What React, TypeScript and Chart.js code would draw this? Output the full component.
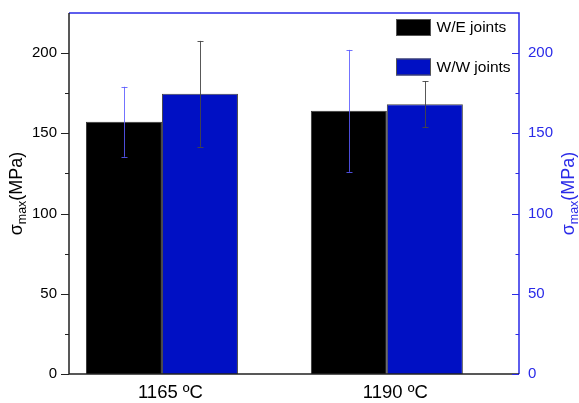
import React, { useEffect, useRef } from "react";
import { Chart, registerables } from "chart.js";

Chart.register(...registerables);

const categories = ["1165 ºC", "1190 ºC"];
const seriesNames = ["W/E joints", "W/W joints"];
const weValues = [157.2, 164.0];
const wwValues = [174.6, 168.2];
const weErrors = [21.8, 38.0];
const wwErrors = [33.0, 14.4];
const yTickValues = [0, 25, 50, 75, 100, 125, 150, 175, 200];
const xMin = 0.5867;
const xMax = 2.5876;

const FONT = "'Liberation Sans', Arial, sans-serif";
const BLUE_AXIS = "#2a2ae8";
const BAR_BLACK = "#000000";
const BAR_BLUE = "#0010c4";

const overlayPlugin = {
  id: "overlay",
  afterDatasetsDraw(chart: any) {
    const ctx = chart.ctx;
    const y = chart.scales.y;
    const errs = [weErrors, wwErrors];
    const vals = [weValues, wwValues];
    const errColors = ["rgba(90,90,255,0.85)", "rgba(70,70,70,0.9)"];
    ctx.save();
    for (let d = 0; d < 2; d++) {
      const meta = chart.getDatasetMeta(d);
      meta.data.forEach((el: any, i: number) => {
        const v = vals[d][i];
        const e = errs[d][i];
        const yt = y.getPixelForValue(v + e);
        const yb = y.getPixelForValue(v - e);
        ctx.strokeStyle = errColors[d];
        ctx.lineWidth = 1;
        ctx.beginPath();
        const x = Math.round(el.x) + 0.5;
        ctx.moveTo(x, yt);
        ctx.lineTo(x, yb);
        ctx.moveTo(x - 3, Math.round(yt) + 0.5);
        ctx.lineTo(x + 3, Math.round(yt) + 0.5);
        ctx.moveTo(x - 3, Math.round(yb) + 0.5);
        ctx.lineTo(x + 3, Math.round(yb) + 0.5);
        ctx.stroke();
      });
    }
    ctx.restore();
  },
  afterDraw(chart: any) {
    const ctx = chart.ctx;
    const a = chart.chartArea;
    const y = chart.scales.y;
    ctx.save();
    ctx.lineWidth = 1.5;
    ctx.strokeStyle = BLUE_AXIS;
    ctx.beginPath();
    ctx.moveTo(a.left, a.top);
    ctx.lineTo(a.right, a.top);
    ctx.lineTo(a.right, a.bottom);
    ctx.stroke();
    ctx.strokeStyle = "#222";
    ctx.beginPath();
    ctx.moveTo(a.left, a.top);
    ctx.lineTo(a.left, a.bottom);
    ctx.lineTo(a.right, a.bottom);
    ctx.stroke();
    ctx.lineWidth = 1;
    yTickValues.forEach((v) => {
      const py = Math.round(y.getPixelForValue(v)) + 0.5;
      const major = v % 50 === 0;
      ctx.strokeStyle = "#222";
      ctx.beginPath();
      ctx.moveTo(a.left - (major ? 8 : 4), py);
      ctx.lineTo(a.left, py);
      ctx.stroke();
      ctx.strokeStyle = BLUE_AXIS;
      ctx.beginPath();
      ctx.moveTo(a.right - (major ? 7 : 3.5), py);
      ctx.lineTo(a.right, py);
      ctx.stroke();
    });
    const colors = [BAR_BLACK, BAR_BLUE];
    ctx.font = `15.5px ${FONT}`;
    ctx.textBaseline = "middle";
    ctx.textAlign = "left";
    seriesNames.forEach((name, i) => {
      const by = 19 + i * 39.5;
      ctx.fillStyle = colors[i];
      ctx.fillRect(396, by, 35, 17);
      ctx.strokeStyle = "#555";
      ctx.lineWidth = 1;
      ctx.strokeRect(396.5, by + 0.5, 34, 16);
      ctx.fillStyle = "#000";
      ctx.fillText(name, 436.5, by + 9);
    });
    const drawTitle = (cx: number, cy: number, color: string) => {
      ctx.save();
      ctx.translate(cx, cy);
      ctx.rotate(-Math.PI / 2);
      ctx.fillStyle = color;
      ctx.textBaseline = "alphabetic";
      ctx.textAlign = "left";
      const big = `18px ${FONT}`;
      const small = `12.5px ${FONT}`;
      ctx.font = big;
      const w1 = ctx.measureText("σ").width;
      const w3 = ctx.measureText("(MPa)").width;
      ctx.font = small;
      const w2 = ctx.measureText("max").width;
      const total = w1 + w2 + w3;
      let x = -total / 2;
      ctx.font = big;
      ctx.fillText("σ", x, 6);
      x += w1;
      ctx.font = small;
      ctx.fillText("max", x, 10);
      x += w2;
      ctx.font = big;
      ctx.fillText("(MPa)", x, 6);
      ctx.restore();
    };
    const cy = (a.top + a.bottom) / 2;
    drawTitle(16, cy, "#000");
    drawTitle(568, cy, BLUE_AXIS);
    ctx.restore();
  },
};

export default function App() {
  const ref = useRef<HTMLCanvasElement | null>(null);
  useEffect(() => {
    if (!ref.current) return;
    const yTicks = {
      stepSize: 25,
      autoSkip: false,
      font: { family: FONT, size: 15 },
      callback: (v: any) => (v % 50 === 0 && v <= 200 ? String(v) : ""),
    };
    const fitY = (w: number) => (scale: any) => {
      scale.width = w;
      scale.paddingTop = 0;
      scale.paddingBottom = 0;
    };
    const chart = new Chart(ref.current, {
      type: "bar",
      data: {
        datasets: [
          {
            label: seriesNames[0],
            data: weValues.map((v, i) => ({ x: i + 1, y: v })),
            backgroundColor: BAR_BLACK,
            borderColor: "#333",
            borderWidth: 1,
          },
          {
            label: seriesNames[1],
            data: wwValues.map((v, i) => ({ x: i + 1, y: v })),
            backgroundColor: BAR_BLUE,
            borderColor: "#444",
            borderWidth: 1,
          },
        ],
      },
      options: {
        animation: false,
        responsive: true,
        maintainAspectRatio: false,
        datasets: { bar: { categoryPercentage: 0.676, barPercentage: 1 } },
        layout: { padding: { top: 13, left: 0, right: 0, bottom: 0 } },
        plugins: { legend: { display: false }, tooltip: { enabled: false } },
        scales: {
          x: {
            type: "linear",
            offset: false,
            bounds: "data",
            grace: 0,
            min: xMin,
            max: xMax,
            grid: { display: false, drawTicks: false },
            border: { display: false },
            afterDataLimits: (scale: any) => {
              scale.min = xMin;
              scale.max = xMax;
            },
            afterBuildTicks: (scale: any) => {
              scale.ticks = categories.map((_, i) => ({ value: i + 1 }));
              scale.min = xMin;
              scale.max = xMax;
            },
            afterFit: (scale: any) => {
              scale.height = 29;
              scale.paddingLeft = 0;
              scale.paddingRight = 0;
            },
            ticks: {
              autoSkip: false,
              maxRotation: 0,
              padding: 8,
              labelOffset: 8.5,
              color: "#000",
              font: { family: FONT, size: 18.5 },
              callback: (v: any) => categories[Math.round(v) - 1] ?? "",
            },
          },
          y: {
            position: "left",
            min: 0,
            max: 225,
            grid: { display: false, drawTicks: false },
            border: { display: false },
            afterFit: fitY(69),
            ticks: { ...yTicks, color: "#000", padding: 12 },
          },
          y1: {
            position: "right",
            min: 0,
            max: 225,
            grid: { display: false, drawTicks: false },
            border: { display: false },
            afterFit: fitY(60),
            ticks: { ...yTicks, color: BLUE_AXIS, padding: 9 },
          },
        },
      } as any,
      plugins: [overlayPlugin],
    });
    return () => chart.destroy();
  }, []);
  return (
    <div style={{ position: "absolute", left: 0, top: 0, width: 579, height: 403 }}>
      <canvas ref={ref} />
    </div>
  );
}
